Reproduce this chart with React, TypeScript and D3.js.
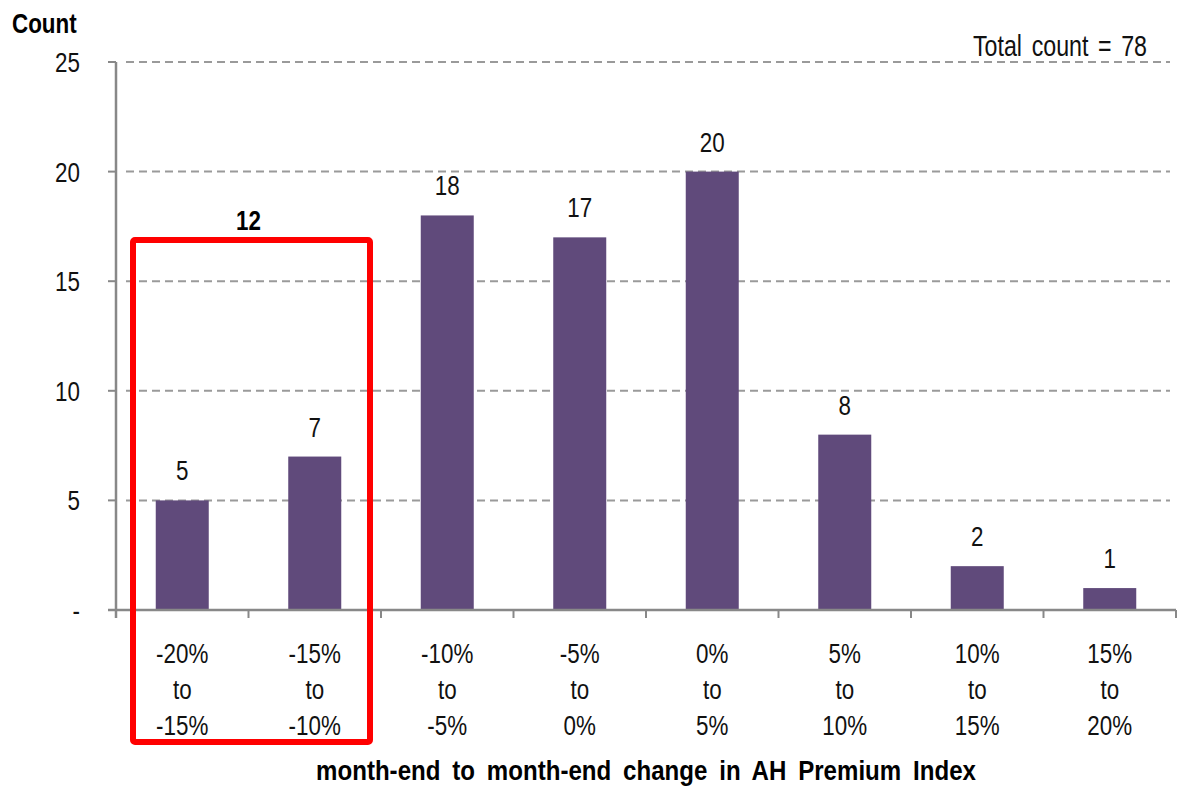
import { useEffect, useRef } from 'react'
import * as d3 from 'd3'

// histogram of month-end to month-end change in AH Premium Index
const bucketFrom = ['-20%', '-15%', '-10%', '-5%', '0%', '5%', '10%', '15%']
const bucketTo = ['-15%', '-10%', '-5%', '0%', '5%', '10%', '15%', '20%']
const counts = [5, 7, 18, 17, 20, 8, 2, 1]
const yTicks = [0, 5, 10, 15, 20, 25]
const highlighted = [0, 1]
const totalCount = 78

const FONT = '"Liberation Sans", Arial, sans-serif'
const NARROW = 0.8

export default function App() {
  const svgRef = useRef<SVGSVGElement>(null)

  useEffect(() => {
    const W = 1184, H = 786
    const pad = { l: 116, t: 62, b: 176 }
    const svg = d3.select(svgRef.current)
    svg.selectAll('*').remove()
    svg.attr('width', W).attr('height', H).style('background', '#fff').style('font-family', FONT)

    // narrow text, like Arial Narrow
    const label = (x: number, y: number, t: string | number, anchor = 'middle', bold = false, size = 28, ws = 0, sx = NARROW) => {
      svg.append('g').attr('transform', `translate(${x},${y}) scale(${sx},1)`)
        .append('text').attr('text-anchor', anchor).attr('font-size', size).attr('word-spacing', ws)
        .attr('font-weight', bold ? 'bold' : 'normal').attr('fill', bold ? '#000' : '#111').text(String(t))
    }

    const step = 132.5
    const x0 = pad.l, x1 = pad.l + counts.length * step
    const x = d3.scaleBand<number>().domain(d3.range(counts.length)).range([x0, x1]).paddingInner(0.6).paddingOuter(0.3)
    const y = d3.scaleLinear().domain([0, 25]).range([H - pad.b, pad.t])

    // Grid
    yTicks.filter(v => v > 0).forEach(v => {
      svg.append('line').attr('x1', x0 + 10).attr('x2', 1170).attr('y1', y(v)).attr('y2', y(v))
        .attr('stroke', '#9a9a9a').attr('stroke-width', 2).attr('stroke-dasharray', '8,5')
    })

    // Y axis
    svg.append('line').attr('x1', x0).attr('x2', x0).attr('y1', y(25)).attr('y2', y(0) + 8).attr('stroke', '#888').attr('stroke-width', 2.5)
    yTicks.forEach(v => {
      svg.append('line').attr('x1', x0 - 8).attr('x2', x0).attr('y1', y(v)).attr('y2', y(v)).attr('stroke', '#888').attr('stroke-width', 2)
      label(80, y(v) + 10, v === 0 ? '-' : v, 'end')
    })

    // Bars
    counts.forEach((c, i) => {
      svg.append('rect').attr('x', x(i)!).attr('y', y(c)).attr('width', x.bandwidth()).attr('height', y(0) - y(c)).attr('fill', '#604a7b')
      label(x(i)! + x.bandwidth() / 2, y(c) - 20, c)
    })

    // X axis
    svg.append('line').attr('x1', x0 - 8).attr('x2', x1).attr('y1', y(0)).attr('y2', y(0)).attr('stroke', '#888').attr('stroke-width', 2.5)
    d3.range(counts.length + 1).forEach(i => {
      const tx = x0 + i * step
      svg.append('line').attr('x1', tx).attr('x2', tx).attr('y1', y(0)).attr('y2', y(0) + 8).attr('stroke', '#888').attr('stroke-width', 2)
    })
    counts.forEach((_, i) => {
      const cx = x(i)! + x.bandwidth() / 2
      ;[bucketFrom[i], 'to', bucketTo[i]].forEach((t, j) => label(cx, 663 + j * 36, t))
    })

    // Highlight box
    const hx0 = 133, hx1 = 370
    const hSum = d3.sum(highlighted, i => counts[i])
    svg.append('rect').attr('x', hx0).attr('y', 240).attr('width', hx1 - hx0).attr('height', 502)
      .attr('fill', 'none').attr('stroke', '#ff0000').attr('stroke-width', 6).attr('rx', 2)
    label((x(highlighted[0])! + x(highlighted[1])! + x.bandwidth()) / 2, 230, hSum, 'middle', true)

    // Titles
    label(12, 33, 'Count', 'start', true)
    label(1147, 56, `Total count =  ${totalCount}`, 'end', false, 29, 4)
    label(646, 780, 'month-end to month-end change in AH Premium Index', 'middle', true, 28, 6, 0.86)
  }, [])

  return (
    <div style={{ position: 'absolute', left: 0, top: 0 }}>
      <svg ref={svgRef} />
    </div>
  )
}
